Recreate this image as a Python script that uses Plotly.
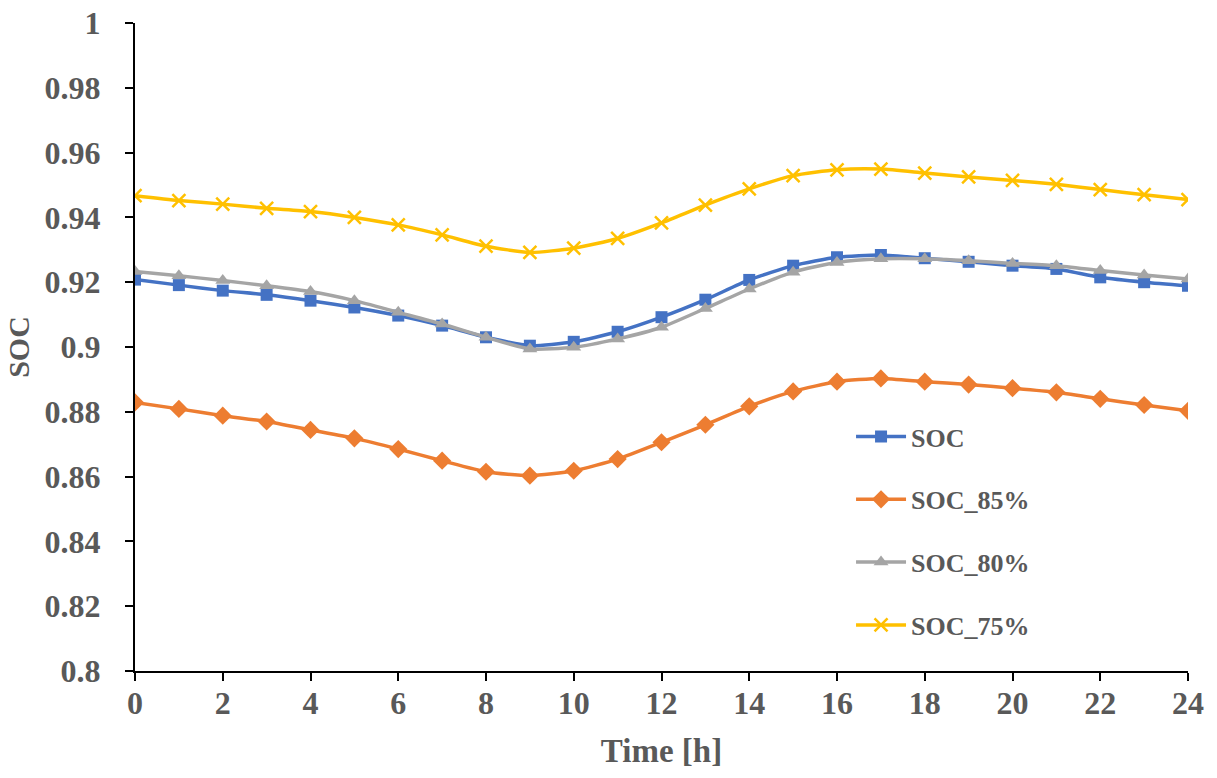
import plotly.graph_objects as go

hours = list(range(25))
soc = [0.9208, 0.9191, 0.9174, 0.9161, 0.9143, 0.9122, 0.9097, 0.9066, 0.9030,
       0.9004, 0.9016, 0.9047, 0.9092, 0.9146, 0.9207, 0.9251, 0.9277, 0.9284,
       0.9274, 0.9263, 0.9251, 0.9241, 0.9215, 0.9200, 0.9189]
soc_85 = [0.8829, 0.8809, 0.8788, 0.8770, 0.8744, 0.8718, 0.8685, 0.8649, 0.8615,
          0.8603, 0.8618, 0.8654, 0.8706, 0.8760, 0.8817, 0.8863, 0.8893, 0.8903,
          0.8893, 0.8884, 0.8873, 0.8860, 0.8840, 0.8821, 0.8803]
soc_80 = [0.9233, 0.9220, 0.9205, 0.9189, 0.9171, 0.9143, 0.9107, 0.9071, 0.9030,
          0.8994, 0.8999, 0.9025, 0.9061, 0.9119, 0.9179, 0.9231, 0.9261, 0.9272,
          0.9272, 0.9266, 0.9258, 0.9251, 0.9236, 0.9222, 0.9210]
soc_75 = [0.9467, 0.9452, 0.9441, 0.9428, 0.9418, 0.9400, 0.9377, 0.9346, 0.9311,
          0.9292, 0.9305, 0.9335, 0.9383, 0.9438, 0.9488, 0.9529, 0.9547, 0.9549,
          0.9537, 0.9525, 0.9514, 0.9502, 0.9486, 0.9470, 0.9455]

series = [
    ("SOC", soc, "#4472C4", "square", 12),
    ("SOC_85%", soc_85, "#ED7D31", "diamond", 14),
    ("SOC_80%", soc_80, "#A5A5A5", "triangle-up", 13),
    ("SOC_75%", soc_75, "#FFC000", "x-thin", 13),
]

fig = go.Figure()
for name, vals, color, sym, size in series:
    marker = dict(symbol=sym, size=size, color=color)
    if sym == "x-thin":
        marker["line"] = dict(color=color, width=2.5)
    fig.add_trace(go.Scatter(
        x=hours, y=vals, name=name, mode="lines+markers",
        line=dict(color=color, width=3.5, shape="spline", smoothing=0.6),
        marker=marker, legendgroup=name,
    ))

font_family = "Liberation Serif, Times New Roman, serif"
fig.update_layout(
    width=1217, height=778,
    margin=dict(l=135, r=29, t=23, b=107),
    paper_bgcolor="white", plot_bgcolor="white",
    font=dict(family=font_family, color="#595959", size=32),
    showlegend=True,
    legend=dict(
        x=0.68, y=0.398, xanchor="left", yanchor="top",
        font=dict(family=font_family, size=26, color="#595959", weight="bold"),
        bgcolor="rgba(0,0,0,0)", tracegroupgap=26, traceorder="grouped",
        itemwidth=50,
    ),
    xaxis=dict(
        range=[0, 24], dtick=2, tick0=0, automargin=False,
        showline=True, linecolor="black", linewidth=2,
        ticks="outside", tickcolor="black", ticklen=8, tickwidth=2,
        showgrid=False, zeroline=False, ticklabelstandoff=-5,
        tickfont=dict(family=font_family, size=32, color="#595959", weight="bold"),
        title=dict(text="Time [h]", standoff=18,
                   font=dict(family=font_family, size=33, color="#595959", weight="bold")),
    ),
    yaxis=dict(
        range=[0.8, 1.0], dtick=0.02, tick0=0.8, automargin=False,
        showline=True, linecolor="black", linewidth=2,
        ticks="outside", tickcolor="black", ticklen=8, tickwidth=2,
        showgrid=False, zeroline=False, ticklabelstandoff=18,
        tickfont=dict(family=font_family, size=32, color="#595959", weight="bold"),
        title=dict(text="SOC", standoff=6,
                   font=dict(family=font_family, size=30, color="#595959", weight="bold")),
    ),
)

fig.write_html("out.html")
